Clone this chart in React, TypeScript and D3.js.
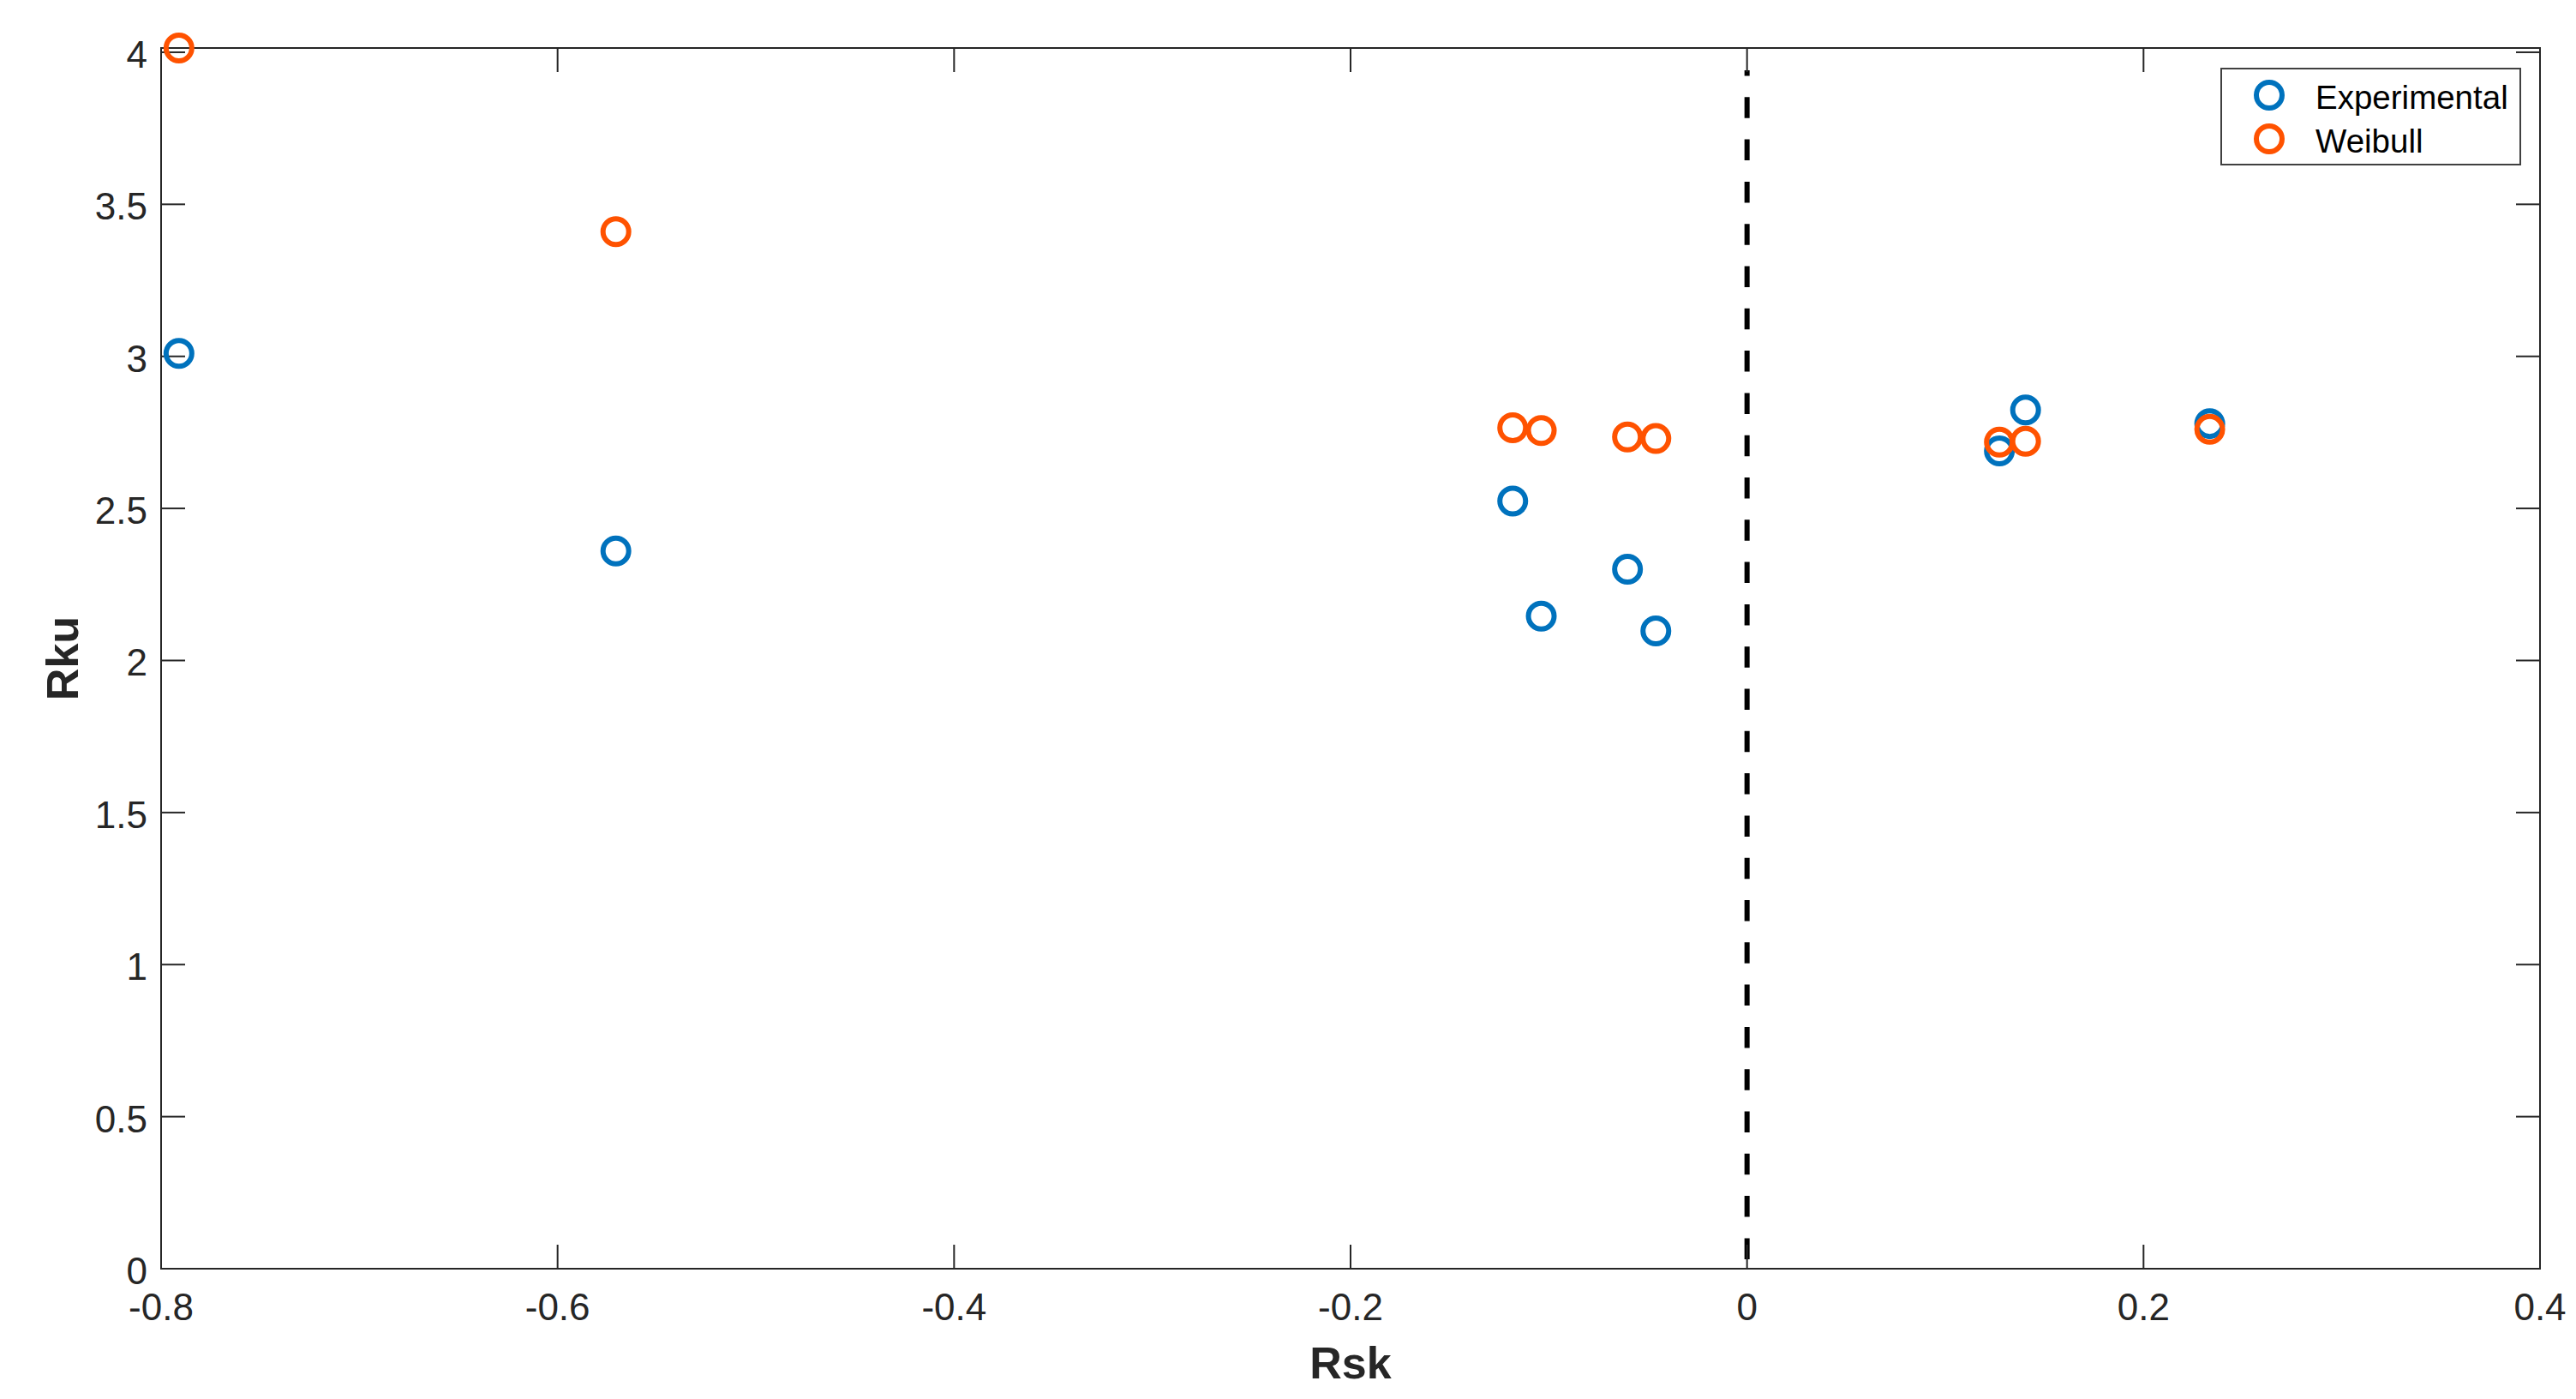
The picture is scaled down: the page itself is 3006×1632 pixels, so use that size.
import React from "react";
import * as d3 from "d3";

const rsk = [-0.791, -0.5706, -0.1182, -0.1038, -0.0603, -0.046, 0.1273, 0.1405, 0.2334];
const rkuExperimental = [3.01, 2.36, 2.524, 2.146, 2.3, 2.097, 2.689, 2.824, 2.779];
const rkuWeibull = [4.014, 3.41, 2.765, 2.756, 2.735, 2.73, 2.718, 2.721, 2.76];
const xTicks = [-0.8, -0.6, -0.4, -0.2, 0, 0.2, 0.4];
const yTicks = [0, 0.5, 1, 1.5, 2, 2.5, 3, 3.5, 4];
const seriesNames = ["Experimental", "Weibull"];
const seriesColors = ["#0072BD", "#FF5200"];

const W = 3006;
const H = 1632;
const left = 188, right = 2964, top = 56, bottom = 1480;
const axisColor = "#262626";
const font = "'Liberation Sans', Arial, Helvetica, sans-serif";

export default function App() {
  const x = d3.scaleLinear().domain([-0.8, 0.4]).range([left, right]);
  const y = d3.scaleLinear().domain([0, 4.014]).range([bottom, top]);
  const tickLen = 28;
  const r = 15;
  const series = [rkuExperimental, rkuWeibull];
  const fmt = (v: number) => (v === 0 ? "0" : String(v));

  return (
    <svg width={W} height={H} style={{ position: "absolute", left: 0, top: 0, background: "#fff" }}>
      <rect x={0} y={0} width={W} height={H} fill="#fff" />
      {/* dashed zero line */}
      <line
        x1={x(0)} x2={x(0)} y1={82} y2={bottom}
        stroke="#000" strokeWidth={6} strokeDasharray="24.5 24.8" strokeDashoffset={18}
      />
      {/* frame */}
      <rect x={left} y={top} width={right - left} height={bottom - top} fill="none" stroke={axisColor} strokeWidth={2} />
      {/* x ticks */}
      {xTicks.map((t) => (
        <g key={"x" + t}>
          <line x1={x(t)} x2={x(t)} y1={bottom} y2={bottom - tickLen} stroke={axisColor} strokeWidth={2} />
          <line x1={x(t)} x2={x(t)} y1={top} y2={top + tickLen} stroke={axisColor} strokeWidth={2} />
          <text x={x(t)} y={1540} textAnchor="middle" fontFamily={font} fontSize={44} fill={axisColor}>
            {fmt(t)}
          </text>
        </g>
      ))}
      {/* y ticks */}
      {yTicks.map((t) => (
        <g key={"y" + t}>
          <line x1={left} x2={left + tickLen} y1={y(t)} y2={y(t)} stroke={axisColor} strokeWidth={2} />
          <line x1={right} x2={right - tickLen} y1={y(t)} y2={y(t)} stroke={axisColor} strokeWidth={2} />
          <text x={172} y={y(t) + 18} textAnchor="end" fontFamily={font} fontSize={44} fill={axisColor}>
            {fmt(t)}
          </text>
        </g>
      ))}
      {/* axis labels */}
      <text x={(left + right) / 2} y={1608} textAnchor="middle" fontFamily={font} fontSize={52} fontWeight="bold" fill={axisColor}>
        Rsk
      </text>
      <text
        transform={`translate(91, ${(top + bottom) / 2}) rotate(-90)`}
        textAnchor="middle" fontFamily={font} fontSize={52} fontWeight="bold" fill={axisColor}
      >
        Rku
      </text>
      {/* points */}
      {series.map((vals, si) => (
        <g key={"s" + si}>
          {vals.map((v, i) => (
            <circle key={i} cx={x(rsk[i])} cy={y(v)} r={r} fill="none" stroke={seriesColors[si]} strokeWidth={6} />
          ))}
        </g>
      ))}
      {/* legend */}
      <rect x={2592} y={80} width={349} height={112} fill="#fff" stroke="#404040" strokeWidth={2} />
      {seriesNames.map((n, i) => (
        <g key={n}>
          <circle cx={2648} cy={111 + i * 51} r={r} fill="none" stroke={seriesColors[i]} strokeWidth={6} />
          <text x={2702} y={127 + i * 51} fontFamily={font} fontSize={38.5} fill="#000">
            {n}
          </text>
        </g>
      ))}
    </svg>
  );
}
